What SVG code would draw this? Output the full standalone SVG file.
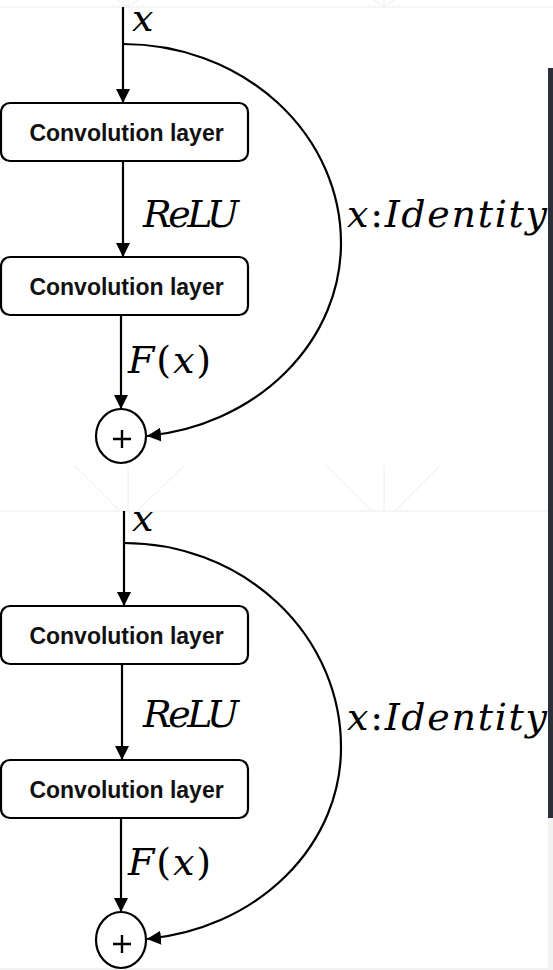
<svg xmlns="http://www.w3.org/2000/svg" width="553" height="970" viewBox="0 0 553 970">
  <style>
    .edge { fill: none; stroke: #000; stroke-width: 2.2; }
    .box { fill: #fff; stroke: #000; stroke-width: 2.2; }
    .sum { fill: #fff; stroke: #000; stroke-width: 2.2; }
    .plus { stroke: #000; stroke-width: 2.4; fill: none; }
    .lbl { font-family: "Liberation Sans", Arial, sans-serif; font-weight: bold; font-size: 23px; fill: #111; text-anchor: middle; }
    .math { font-family: "DejaVu Serif", "Liberation Serif", serif; font-style: italic; font-size: 38px; fill: #000; }
    .up { font-style: normal; }
    .faint { stroke: #ececec; stroke-width: 1; fill: none; }
  </style>
  <defs>
    <marker id="arr" markerUnits="userSpaceOnUse" markerWidth="16" markerHeight="16" refX="14" refY="7" orient="auto">
      <path d="M0,0 L14,7 L0,14 Z" fill="#000"/>
    </marker>
  </defs>

  <g id="background">
    <rect x="0" y="0" width="553" height="970" fill="#fff"/>
    <line class="faint" x1="0" y1="7" x2="553" y2="7"/>
    <path class="faint" d="M118,0 L128,7 L138,0 M128,0 L128,7 M374,0 L384,7 L394,0 M384,0 L384,7"/>
    <line class="faint" x1="0" y1="511" x2="548" y2="511"/>
    <path class="faint" d="M74,465 L120,511 M185,465 L137,511 M128,465 L128,511 M326,465 L372,511 M441,465 L395,511 M384,465 L384,511"/>
    <rect x="548" y="68" width="5" height="750" fill="#2b2e38"/>
    <rect x="548" y="818" width="5" height="152" fill="#f2f2f2"/>
    <rect x="0" y="968" width="553" height="2" fill="#f2f2f2"/>
  </g>

  <g id="connectors">
    <line class="edge" x1="123" y1="7" x2="123" y2="103" marker-end="url(#arr)"/>
    <line class="edge" x1="123" y1="161" x2="123" y2="257" marker-end="url(#arr)"/>
    <line class="edge" x1="121" y1="315" x2="121" y2="409" marker-end="url(#arr)"/>
    <path class="edge" d="M123,44 A218,199 0 0 1 341,243 A218,194 0 0 1 147,436" marker-end="url(#arr)"/>
    <line class="edge" x1="124" y1="511" x2="124" y2="606" marker-end="url(#arr)"/>
    <line class="edge" x1="122" y1="664" x2="122" y2="760" marker-end="url(#arr)"/>
    <line class="edge" x1="121" y1="818" x2="121" y2="912" marker-end="url(#arr)"/>
    <path class="edge" d="M124,543 A217,204 0 0 1 341,747 A217,192 0 0 1 147,939" marker-end="url(#arr)"/>
  </g>

  <g id="conv1">
    <rect class="box" x="1" y="103" width="247" height="58" rx="9"/>
    <text class="lbl" x="126.5" y="141">Convolution layer</text>
  </g>
  <g id="conv2">
    <rect class="box" x="1" y="257" width="247" height="58" rx="9"/>
    <text class="lbl" x="126.5" y="295">Convolution layer</text>
  </g>
  <g id="sum1">
    <ellipse class="sum" cx="121" cy="436" rx="25" ry="27"/>
    <path class="plus" d="M113,439 H131 M122,430 V448"/>
  </g>
  <g id="conv3">
    <rect class="box" x="1" y="606" width="247" height="58" rx="9"/>
    <text class="lbl" x="126.5" y="644">Convolution layer</text>
  </g>
  <g id="conv4">
    <rect class="box" x="1" y="760" width="247" height="58" rx="9"/>
    <text class="lbl" x="126.5" y="798">Convolution layer</text>
  </g>
  <g id="sum2">
    <ellipse class="sum" cx="121" cy="940" rx="25" ry="28"/>
    <path class="plus" d="M113,944 H131 M122,935 V953"/>
  </g>

  <g id="labels">
    <text class="math" x="132" y="31">x</text>
    <text class="math" x="143" y="227" textLength="96">ReLU</text>
    <text class="math" x="128" y="373" textLength="83">F<tspan class="up">(</tspan>x<tspan class="up">)</tspan></text>
    <text class="math" x="347" y="227" textLength="200">x<tspan class="up">:</tspan>Identity</text>

    <text class="math" x="132" y="531">x</text>
    <text class="math" x="143" y="727" textLength="96">ReLU</text>
    <text class="math" x="128" y="875" textLength="83">F<tspan class="up">(</tspan>x<tspan class="up">)</tspan></text>
    <text class="math" x="347" y="730" textLength="200">x<tspan class="up">:</tspan>Identity</text>
  </g>
</svg>
